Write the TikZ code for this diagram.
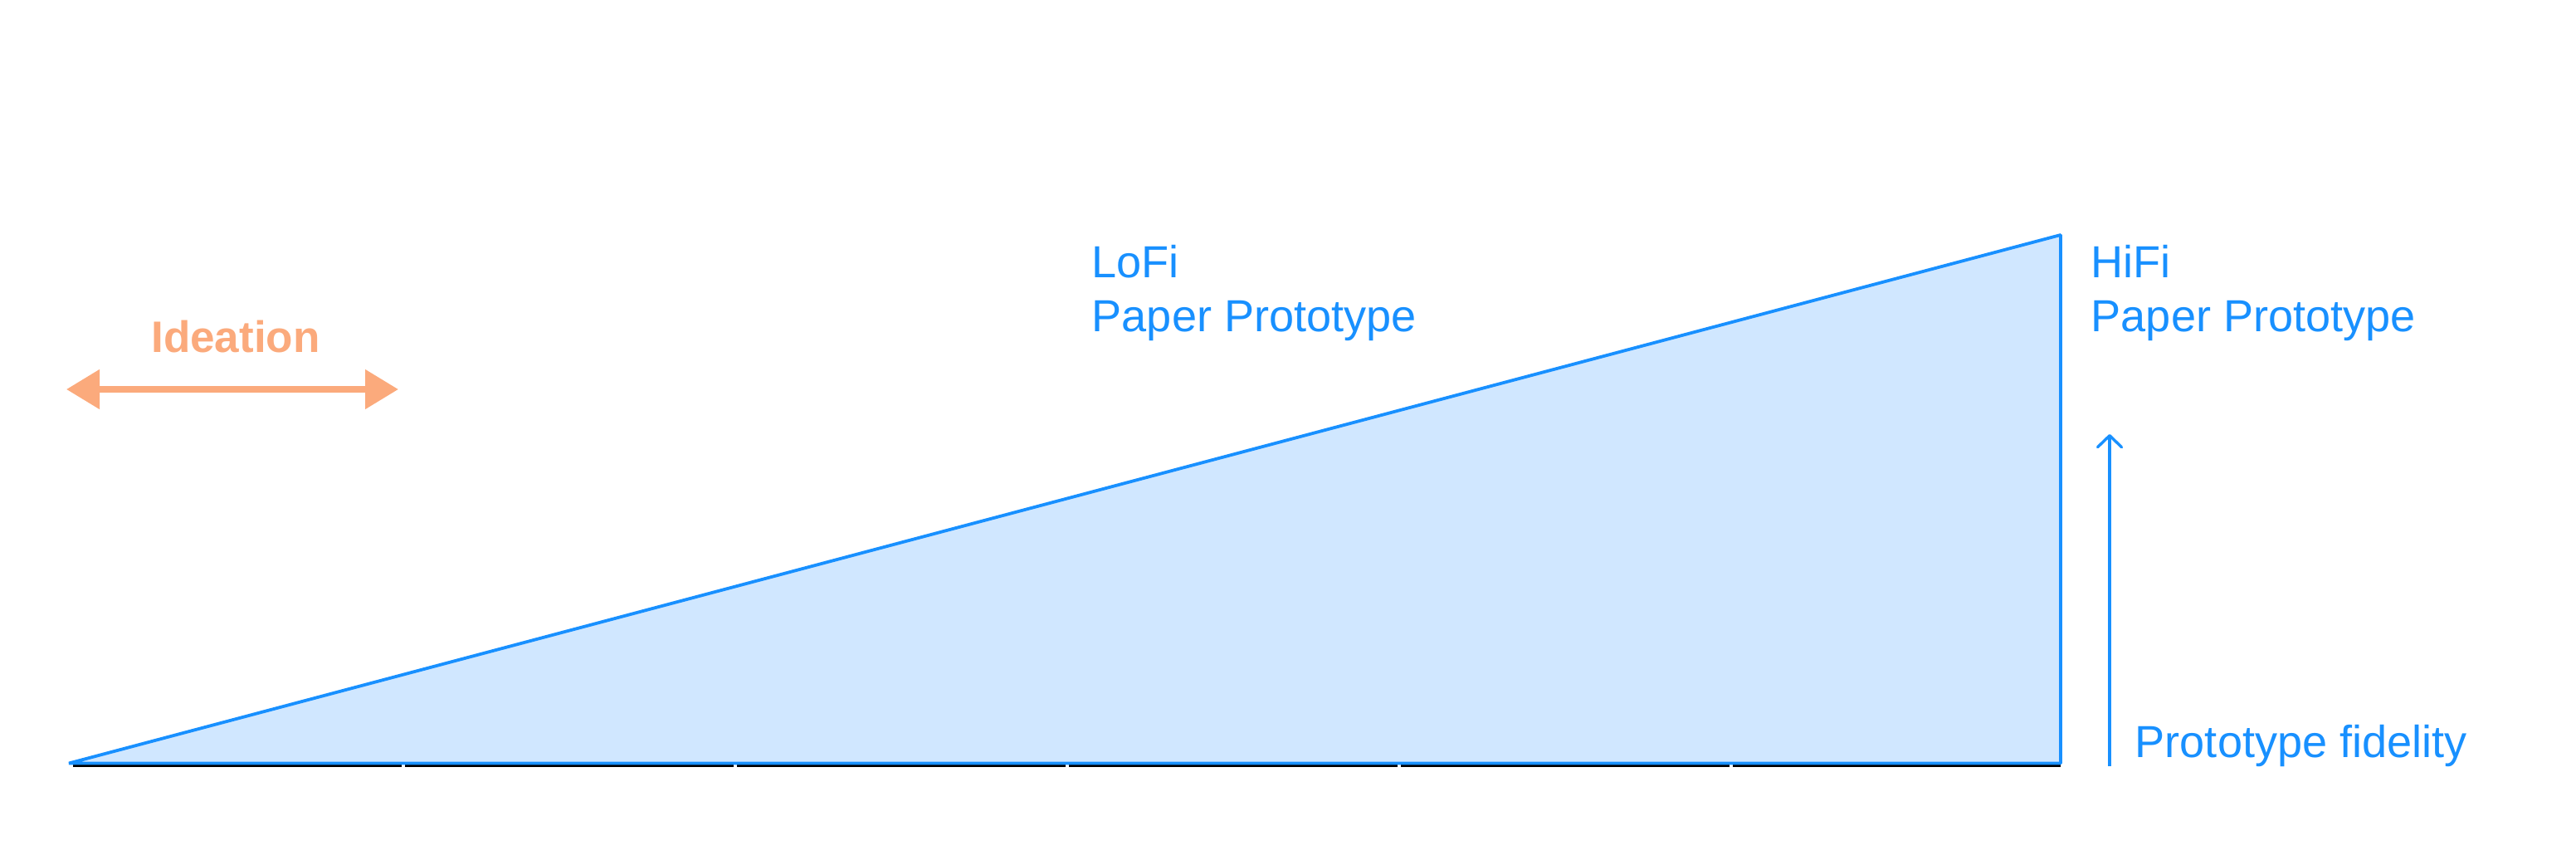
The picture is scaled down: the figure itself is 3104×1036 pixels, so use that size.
\documentclass[tikz,border=0pt]{standalone}
\usepackage{fontspec}
\setmainfont{Liberation Sans}
\usetikzlibrary{arrows.meta}
\definecolor{lineblue}{RGB}{24,144,255}
\definecolor{fillblue}{RGB}{208,231,255}
\definecolor{ideaorange}{RGB}{251,170,124}
\begin{document}
\begin{tikzpicture}[x=0.1mm,y=-0.1mm,
  lbl/.style={text=lineblue, font=\fontsize{15.4}{18}\selectfont, inner sep=0, anchor=base west},
  idealbl/.style={text=ideaorange, font=\fontsize{15.1}{18}\selectfont\bfseries, inner sep=0, anchor=base},
  axisline/.style={black, line width=0.28mm},
  trianglestyle/.style={draw=lineblue, fill=fillblue, line width=0.38mm, line join=bevel},
  ideaarrow/.style={ideaorange, line width=0.8mm, {Triangle[length=4mm,width=4.6mm]}-{Triangle[length=4mm,width=4.6mm]}},
  fidarrow/.style={lineblue, line width=0.34mm, -{Straight Barb[length=1.4mm,width=2.9mm,round]}}
  ]
\useasboundingbox (0,0) rectangle (3104,1036);
% axis
\foreach \s/\e in {88/484, 488/884, 888/1284, 1288/1684, 1688/2084, 2088/2483}
  \draw[axisline] (\s,922.5) -- (\e,922.5);
% triangle
\coordinate (tl) at (83,919.5);
\coordinate (tr) at (2483,283);
\coordinate (br) at (2483,919.5);
\draw[trianglestyle] (tl) -- (tr) -- (br) -- cycle;
% ideation
\coordinate (iL) at (80,469);
\coordinate (iR) at (480,469);
\draw[ideaarrow] (iL) -- (iR);
\node[idealbl] (idea) at (284,424) {Ideation};
% labels
\node[lbl] (lofiA) at (1315,335) {LoFi};
\node[lbl] (lofiB) at (1315,400) {Paper Prototype};
\node[lbl] (hifiA) at (2519,335) {HiFi};
\node[lbl] (hifiB) at (2519,400) {Paper Prototype};
% fidelity arrow
\coordinate (fb) at (2542,923);
\coordinate (ft) at (2542,523);
\draw[fidarrow] (fb) -- (ft);
\node[lbl] (fid) at (2572,912) {Prototype fidelity};
\end{tikzpicture}
\end{document}
